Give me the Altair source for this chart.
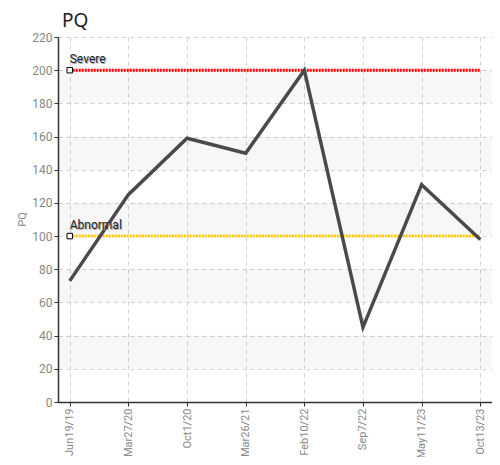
import altair as alt
import pandas as pd

dates = ["Jun19/19", "Mar27/20", "Oct1/20", "Mar26/21", "Feb10/22", "Sep7/22", "May11/23", "Oct13/23"]
pq = [73, 125, 159, 150, 200, 45, 131, 98]

thr_names = ["Severe", "Abnormal"]
thr_values = [200, 100]
thr_colors = ["#ff0000", "#ffcc00"]

band_lo = [20, 60, 100, 140, 180]
band_hi = [40, 80, 120, 160, 200]

y_ticks = list(range(0, 221, 20))

W, H = 434, 365
FONT = "Roboto"

df = pd.DataFrame({"date": dates, "pq": pq})
thr = pd.DataFrame({"name": thr_names, "value": thr_values, "color": thr_colors,
                    "x0": [dates[0]] * 2, "x1": [dates[-1]] * 2})
bands = pd.DataFrame({"lo": band_lo, "hi": band_hi})

xscale = alt.Scale(type="point", domain=dates, padding=0.2)
yscale = alt.Scale(domain=[0, 220], nice=False)

xaxis = alt.Axis(title=None, labelAngle=-90, labelFont=FONT, labelFontSize=11,
                 labelColor="#888888", grid=True, gridDash=[4, 4], gridColor="#d0d0d0",
                 domainColor="#333333", domainWidth=1.5, tickColor="#333333", tickSize=4,
                 labelPadding=2, labelOverlap=False)
yaxis = alt.Axis(title="PQ", values=y_ticks, labelFont=FONT, labelFontSize=12,
                 labelColor="#888888", grid=True, gridDash=[4, 4], gridColor="#d0d0d0",
                 domainColor="#333333", domainWidth=1.5, tickColor="#333333", tickSize=4,
                 titleFont=FONT, titleFontSize=11, titleColor="#888888", titleFontWeight="normal",
                 titleX=-31, titleY=182, titleAngle=-90, titleAlign="center", titleBaseline="bottom",
                 labelPadding=2, labelOverlap=False)

Y = lambda f: alt.Y(f, scale=yscale, axis=yaxis)
X = lambda f: alt.X(f, scale=xscale, axis=xaxis, sort=dates)

band_layer = alt.Chart(bands).mark_rect(color="#000000", opacity=0.03).encode(
    x=alt.value(0), x2=alt.value(W),
    y=Y("lo:Q"), y2="hi:Q")

rule_layer = alt.Chart(thr).mark_rule(strokeWidth=3, strokeDash=[2, 1]).encode(
    x=X("x0:N"), x2="x1:N",
    y=Y("value:Q"),
    color=alt.Color("color:N", scale=None))

line_layer = alt.Chart(df).mark_line(color="#4a4a4a", strokeWidth=3.5).encode(
    x=X("date:N"), y=Y("pq:Q"))

sq_layer = alt.Chart(thr).mark_square(size=30, filled=True, fill="white", stroke="black", strokeWidth=1, opacity=1).encode(
    x=X("x0:N"), y=Y("value:Q"))

shadow_layer = alt.Chart(thr).mark_text(align="left", baseline="bottom", dx=1, dy=-3,
                                        font=FONT, fontSize=12, color="#aaaaaa").encode(
    x=X("x0:N"), y=Y("value:Q"), text="name:N")

text_layer = alt.Chart(thr).mark_text(align="left", baseline="bottom", dx=0, dy=-4,
                                      font=FONT, fontSize=12, color="#222222").encode(
    x=X("x0:N"), y=Y("value:Q"), text="name:N")

chart = alt.layer(band_layer, rule_layer, line_layer, sq_layer, shadow_layer, text_layer).properties(
    width=W, height=H,
    title=alt.TitleParams("PQ", anchor="start", frame="group", fontSize=19, fontWeight="normal",
                          font="Noto Sans", color="#222222", dx=4, offset=0),
    autosize=alt.AutoSizeParams(type="none"),
    padding={"left": 50, "top": 29, "right": 0, "bottom": 55},
).configure_view(stroke=None)

chart.save("out.html", embed_options={"renderer": "svg", "actions": False})
